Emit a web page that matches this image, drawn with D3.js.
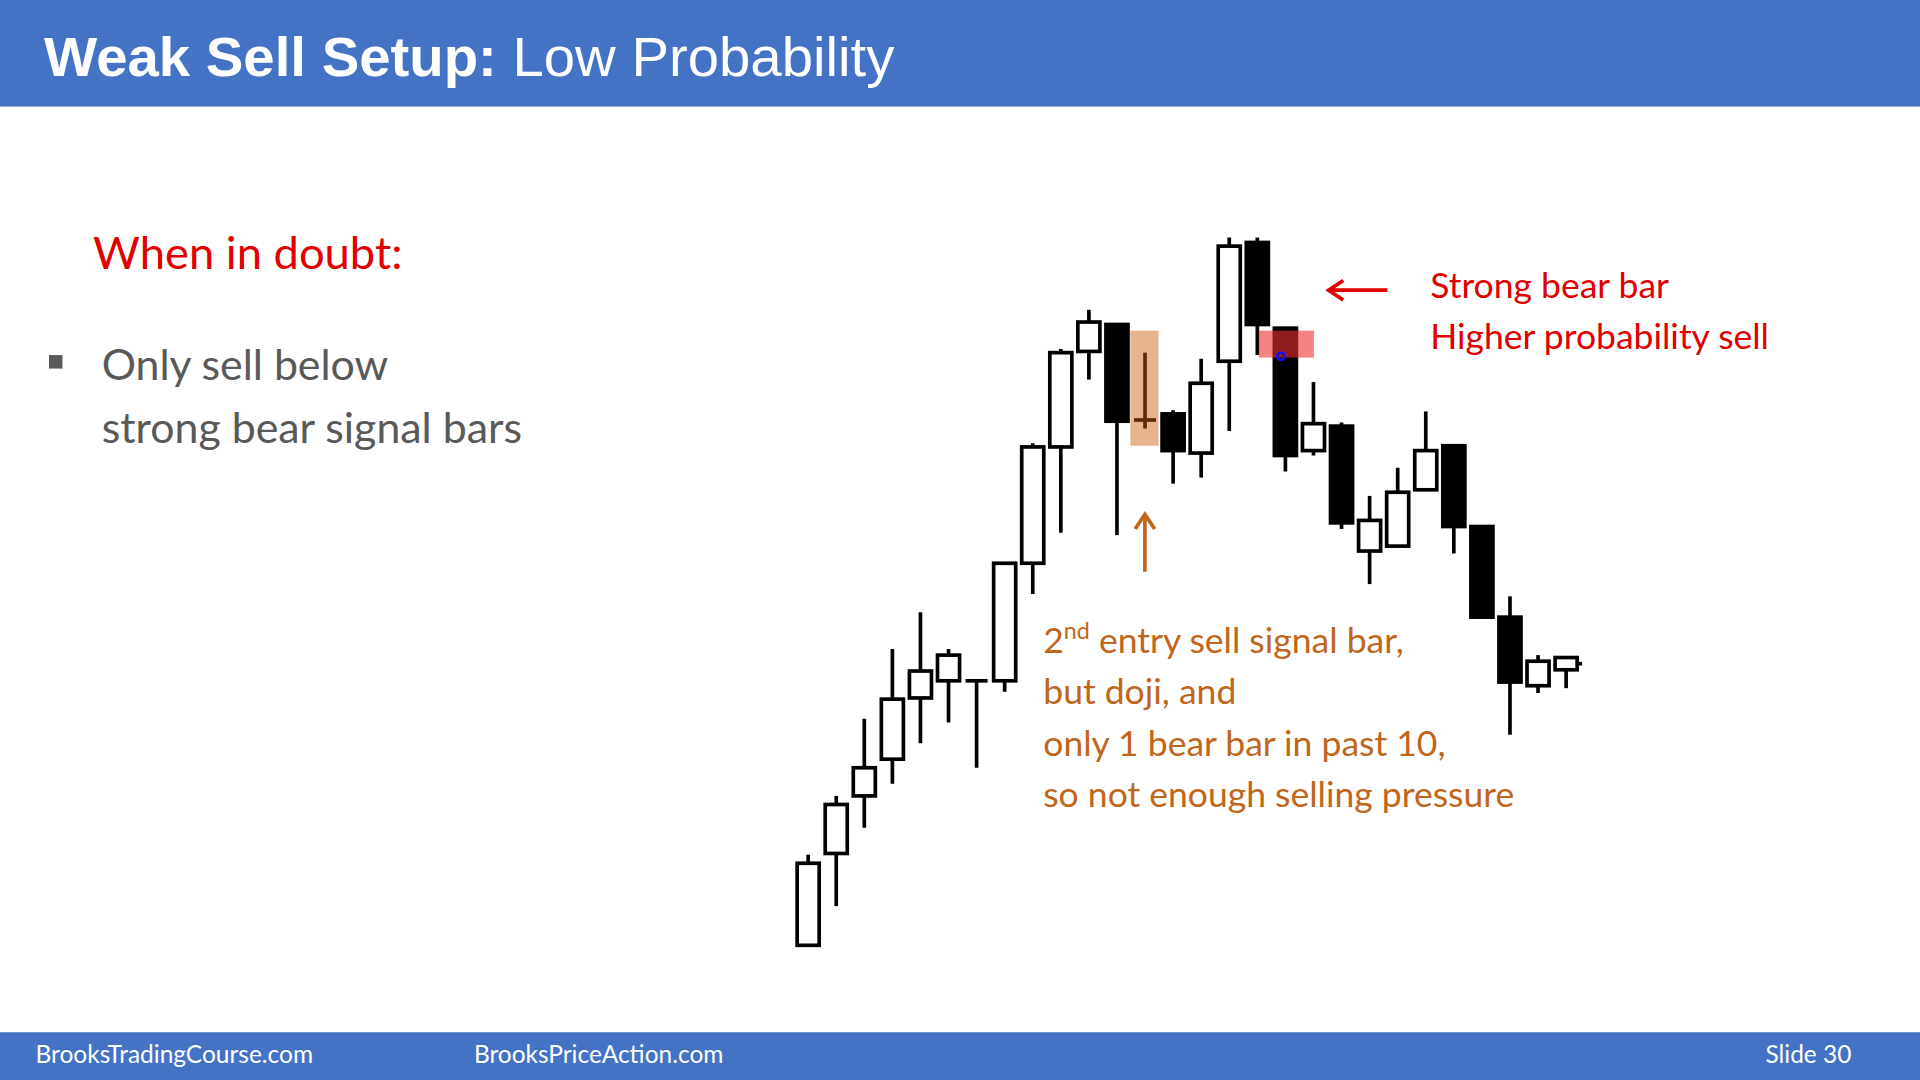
<!DOCTYPE html>
<html>
<head>
<meta charset="UTF-8">
<script src="https://d3js.org/d3.v7.min.js"></script>
<style>body{margin:0;background:#fff;overflow:hidden}</style>
</head>
<body>
<svg id="s" width="1920" height="1080" viewBox="0 0 1568 882"></svg>
<script>
// price units: higher = up
const opens  = [28,103,150,180,230,244,244,244,340,435,513,535,457,462,430,505,602,532,432,452,350,354,400,436,370,296,240,253];
const closes = [95,143,173,229,252,265,244,340,435,512,537,456,457,432,487,599,535,428,454,373,375,398,432,370,296,243,260,263];
const highs  = [102,150,213,270,300,270,244,340,438,515,547,535,512,465,507,606,606,532,488,455,395,418,464,436,366,313,265,263];
const lows   = [28,60,124,160,193,210,173,235,315,365,490,363,450,405,410,448,510,415,428,368,323,354,400,348,295,200,234,238];

const svg = d3.select("#s");
const font = "Lato, 'Open Sans', sans-serif";
const x = d3.scaleLinear().domain([0, 27]).range([660, 1279]);
const y = d3.scaleLinear().domain([0, 600]).range([800, 200]);
const bw = 18;

svg.append("rect").attr("width",1568).attr("height",87).attr("fill","#4472C4");
svg.append("rect").attr("y",843).attr("width",1568).attr("height",39).attr("fill","#4472C4");
const t = svg.append("text").attr("x",36).attr("y",62).attr("fill","#fff")
  .attr("font-family","'Liberation Sans', Arial, sans-serif").attr("font-size",46);
t.append("tspan").attr("font-weight","bold").text("Weak Sell Setup: ");
t.append("tspan").text("Low Probability");
[["BrooksTradingCourse.com",29],["BrooksPriceAction.com",387]].forEach(d=>
  svg.append("text").attr("x",d[1]).attr("y",868).attr("fill","#fff").attr("font-family",font).attr("font-size",20).text(d[0]));
svg.append("text").attr("x",1512).attr("y",868).attr("text-anchor","end").attr("fill","#fff").attr("font-family",font).attr("font-size",20).text("Slide  30");

svg.append("text").attr("x",76).attr("y",220).attr("fill","#e00000").attr("font-family",font).attr("font-size",37).text("When in doubt:");
svg.append("rect").attr("x",40).attr("y",290).attr("width",11).attr("height",11).attr("fill","#595959");
["Only sell below","strong bear signal bars"].forEach((s,i)=>
  svg.append("text").attr("x",83).attr("y",310+i*52).attr("fill","#595959").attr("font-family",font).attr("font-size",35).text(s));

// highlights
svg.append("rect").attr("x",x(12)-12).attr("y",270).attr("width",23).attr("height",94).attr("fill","#E4A77A").attr("opacity",0.85);

const g = svg.append("g");
d3.range(opens.length).forEach(i=>{
  const cx = x(i), bull = closes[i] >= opens[i];
  g.append("line").attr("x1",cx).attr("x2",cx).attr("y1",y(highs[i])).attr("y2",y(lows[i]))
    .attr("stroke", i===12 ? "#5a2a0a" : "#000").attr("stroke-width",3);
  const top = y(Math.max(opens[i],closes[i])), bot = y(Math.min(opens[i],closes[i]));
  if (bot - top < 2) {
    g.append("line").attr("x1",cx-bw/2).attr("x2",cx+bw/2).attr("y1",top).attr("y2",top)
      .attr("stroke", i===12 ? "#5a2a0a" : "#000").attr("stroke-width",3);
  } else {
    g.append("rect").attr("x",cx-bw/2).attr("y",top).attr("width",bw).attr("height",bot-top)
      .attr("fill", bull ? "#fff" : "#000").attr("stroke","#000").attr("stroke-width",3);
  }
});
g.append("line").attr("x1",x(27)+bw/2).attr("x2",x(27)+bw/2+4).attr("y1",y(258)).attr("y2",y(258)).attr("stroke","#000").attr("stroke-width",3);

svg.append("rect").attr("x",1028).attr("y",270).attr("width",45).attr("height",22).attr("fill","#f03030").attr("opacity",0.6);
svg.append("circle").attr("cx",1046).attr("cy",291).attr("r",3).attr("fill","none").attr("stroke","#1010ff").attr("stroke-width",2);

// arrows
svg.append("path").attr("d","M1133,237 L1085,237 M1097,229 L1085,237 L1097,245").attr("stroke","#e00000").attr("stroke-width",3).attr("fill","none");
svg.append("path").attr("d","M935,467 L935,420 M927,432 L935,420 L943,432").attr("stroke","#C0661A").attr("stroke-width",3).attr("fill","none");

svg.append("text").attr("x",1168).attr("y",243).attr("fill","#e00000").attr("font-family",font).attr("font-size",29).text("Strong bear bar");
svg.append("text").attr("x",1168).attr("y",285).attr("fill","#e00000").attr("font-family",font).attr("font-size",29).text("Higher probability sell");

const o = svg.append("g").attr("fill","#C0661A").attr("font-family",font).attr("font-size",29);
const l1 = o.append("text").attr("x",852).attr("y",533);
l1.append("tspan").text("2");
l1.append("tspan").attr("font-size",19).attr("dy",-11).text("nd");
l1.append("tspan").attr("dy",11).text(" entry sell signal bar,");
["but doji, and","only 1 bear bar in past 10,","so not enough selling pressure"].forEach((s,i)=>
  o.append("text").attr("x",852).attr("y",575+i*42).text(s));
</script>
</body>
</html>
